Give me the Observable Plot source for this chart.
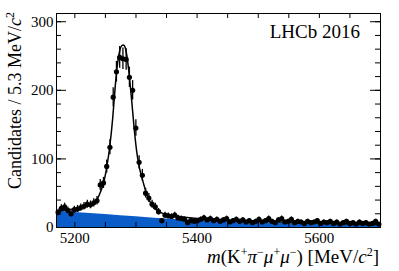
<!DOCTYPE html>
<html><head><meta charset="utf-8">
<script src="https://cdn.jsdelivr.net/npm/d3@7"></script>
<script src="https://cdn.jsdelivr.net/npm/@observablehq/plot@0.6"></script>
<style>body{margin:0;background:#fff} svg text{font-family:"Liberation Serif","DejaVu Serif",serif !important;}</style>
</head><body><div id="chart"></div>
<script>
// ---- data ----
const binCenters = [5172.65,5177.95,5183.25,5188.55,5193.85,5199.15,5204.45,5209.75,5215.05,5220.35,
5225.65,5230.95,5236.25,5241.55,5246.85,5252.15,5257.45,5262.75,5268.05,5273.35,
5278.65,5283.95,5289.25,5294.55,5299.85,5305.15,5310.45,5315.75,5321.05,5326.35,
5331.65,5336.95,5342.25,5347.55,5352.85,5358.15,5363.45,5368.75,5374.05,5379.35,
5384.65,5389.95,5395.25,5400.55,5405.85,5411.15,5416.45,5421.75,5427.05,5432.35,
5437.65,5442.95,5448.25,5453.55,5458.85,5464.15,5469.45,5474.75,5480.05,5485.35,
5490.65,5495.95,5501.25,5506.55,5511.85,5517.15,5522.45,5527.75,5533.05,5538.35,
5543.65,5548.95,5554.25,5559.55,5564.85,5570.15,5575.45,5580.75,5586.05,5591.35,
5596.65,5601.95,5607.25,5612.55,5617.85,5623.15,5628.45,5633.75,5639.05,5644.35,
5649.65,5654.95,5660.25,5665.55,5670.85,5676.15,5681.45,5686.75,5692.05,5697.35];
const counts = [22,28,30,25,20,26,27,29,31,34,
33,36,39,62,65,89,117,190,227,248,
246,245,219,200,145,95,76,50,43,34,
30,23,10,18,17,16,18,14,13,12,
7,10,9,10,12,14,11,13,10,12,
9,11,13,8,10,12,9,11,8,10,
7,9,12,8,10,13,9,7,11,13,
8,9,12,7,9,8,6,9,7,8,
10,6,8,7,9,6,8,5,7,9,
6,7,5,8,6,7,5,6,9,5];
const halfBinWidth = 2.65;

const fitMass  = [5170,5185,5200,5215,5228,5236,5242,5247,5252,5257,5262,5266,5270,5273.5,5276.5,5279.5,5282.5,5285.5,5289,5293,5297,5301,5305,5310,5316,5322,5330,5340,5355,5380,5420,5480,5550,5620,5700];
const fitValue = [24,25.5,27.5,30,34,40,52,65,87,117,160,205,240,258,265,266,262,248,222,185,145,112,90,72,53,39,29,22,18,15,12,9.5,7.5,6,4.5];

const bkgMass  = [5170,5200,5250,5300,5330,5400,5450,5500,5550,5600,5650,5700];
const bkgValue = [24,22,19,15.5,13.5,10.5,8.7,7.2,6,5,4.2,3.5];

const xTickLabels = [5200,5400,5600];
const xTicks = [5200,5250,5300,5350,5400,5450,5500,5550,5600,5650,5700];
const yTickLabels = [0,100,200,300];
const yMinorTicks = [0,20,40,60,80,100,120,140,160,180,200,220,240,260,280,300];

// ---- tables ----
const points = binCenters.map((m,i)=>({m, n:counts[i], lo:Math.max(0,counts[i]-Math.sqrt(counts[i])), hi:counts[i]+Math.sqrt(counts[i]), m1:m-halfBinWidth, m2:m+halfBinWidth}));
const fit = fitMass.map((m,i)=>({m, v:fitValue[i]}));
const bkg = bkgMass.map((m,i)=>({m, v:bkgValue[i]}));

const W=399, H=271, mL=56, mR=19, mT=13, mB=44;
const innerW = W-mL-mR, innerH = H-mT-mB;
const serif = "Liberation Serif, DejaVu Serif, serif";

const plot = Plot.plot({
  width: W, height: H,
  marginLeft: mL, marginRight: mR, marginTop: mT, marginBottom: mB,
  style: {fontFamily: serif, fontSize: "15px", background: "white", color: "black"},
  x: {domain: [5170, 5700], axis: null},
  y: {domain: [0, 312], axis: null},
  marks: [
    Plot.areaY(bkg, {x: "m", y: "v", fill: "#0a5cc8", curve: "monotone-x"}),
    Plot.ruleX(points, {x: "m", y1: "lo", y2: "hi", stroke: "black", strokeWidth: 1.3}),
    Plot.ruleY(points, {y: "n", x1: "m1", x2: "m2", stroke: "black", strokeWidth: 1.3}),
    Plot.dot(points, {x: "m", y: "n", r: 2.6, fill: "black"}),
    Plot.line(fit, {x: "m", y: "v", stroke: "black", strokeWidth: 1.5, curve: "monotone-x"}),
    // inward ticks
    Plot.tickX(xTicks, {x: d=>d, insetTop: innerH-5, stroke: "black"}),
    Plot.tickX(xTicks, {x: d=>d, insetBottom: innerH-5, stroke: "black"}),
    Plot.tickY(yMinorTicks, {y: d=>d, insetRight: innerW-5, stroke: "black"}),
    Plot.tickY(yTickLabels, {y: d=>d, insetRight: innerW-10, stroke: "black"}),
    Plot.tickY(yMinorTicks, {y: d=>d, insetLeft: innerW-5, stroke: "black"}),
    Plot.tickY(yTickLabels, {y: d=>d, insetLeft: innerW-10, stroke: "black"}),
    Plot.axisX(xTickLabels, {tickSize: 0, tickPadding: 5, fontSize: 15, tickFormat: d => String(d), label: null}),
    Plot.axisY(yTickLabels, {tickSize: 0, tickPadding: 3, fontSize: 15, tickFormat: d => String(d), label: null}),
    Plot.frame({stroke: "black", strokeWidth: 1})
  ]
});
document.getElementById("chart").appendChild(plot);

const svg = d3.select(plot);
svg.selectAll("text").style("font-variant", "normal");
// LHCb label
svg.append("text").attr("x", 360).attr("y", 38).attr("text-anchor", "end")
  .attr("font-size", 19).attr("fill", "black").text("LHCb 2016");

// x-axis title
const xl = svg.append("text").attr("x", 379).attr("y", 263).attr("text-anchor", "end")
  .attr("font-size", 19).attr("fill", "black");
function part(el, txt, italic, sup) {
  const t = el.append("tspan").text(txt);
  if (italic) t.attr("font-style", "italic");
  if (sup) t.attr("font-size", 12).attr("dy", sup);
  return t;
}
part(xl, "m", true);
part(xl, "(K");
part(xl, "+", false, -7);
part(xl, "π", true).attr("dy", 7);
part(xl, "−", false, -7);
part(xl, "μ", true).attr("dy", 7);
part(xl, "+", false, -7);
part(xl, "μ", true).attr("dy", 7);
part(xl, "−", false, -7);
part(xl, ") [MeV/").attr("dy", 7);
part(xl, "c", true);
part(xl, "2", false, -7);
part(xl, "]").attr("dy", 7);

// y-axis title
const yl = svg.append("text").attr("transform", "translate(20.5,12) rotate(-90)").attr("text-anchor", "end")
  .attr("font-size", 18).attr("fill", "black");
part(yl, "Candidates / 5.3 MeV/");
part(yl, "c", true);
part(yl, "2", false, -7);
</script></body></html>
